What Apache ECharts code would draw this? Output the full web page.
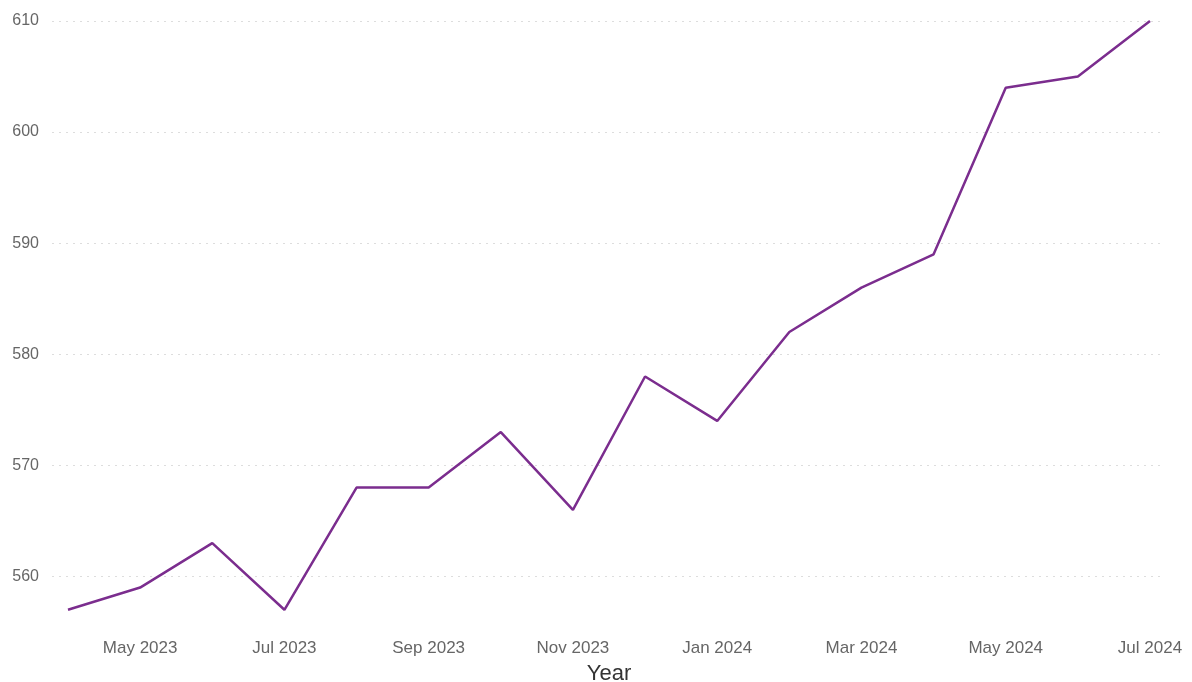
<!DOCTYPE html>
<html>
<head>
<meta charset="utf-8">
<script src="https://cdn.jsdelivr.net/npm/echarts@6/dist/echarts.min.js"></script>
<style>
    html, body { margin: 0; padding: 0; background: #fff; }
    #main { width: 1192px; height: 682px; }
</style>
</head>
<body>
<div id="main"></div>
<script>
// months, Apr 2023 .. Jul 2024
var months = ['Apr 2023', 'May 2023', 'Jun 2023', 'Jul 2023', 'Aug 2023', 'Sep 2023', 'Oct 2023', 'Nov 2023',
    'Dec 2023', 'Jan 2024', 'Feb 2024', 'Mar 2024', 'Apr 2024', 'May 2024', 'Jun 2024', 'Jul 2024'];
var values = [557, 559, 563, 557, 568, 568, 573, 566, 578, 574, 582, 586, 589, 604, 605, 610];
var yMin = 555;
var yMax = 610;

var myChart = echarts.init(document.getElementById('main'));
var font = "'Liberation Sans', Arial, sans-serif";

var option = {
    animation: false,
    grid: [
        // grid 0 only carries the y axis + dotted gridlines (a bit wider than the line)
        { left: 52, right: 30, top: 21, bottom: 50, outerBoundsMode: 'none' },
        // grid 1 carries the line and month labels
        { left: 68, right: 42, top: 21, bottom: 50, outerBoundsMode: 'none' }
    ],
    xAxis: [{
        gridIndex: 0,
        type: 'value',
        show: false
    }, {
        gridIndex: 1,
        type: 'category',
        boundaryGap: false,
        data: months,
        axisLine: { show: false },
        axisTick: { show: false },
        axisLabel: {
            interval: function(index) { return index % 2 === 1; },
            color: '#666',
            fontSize: 17,
            fontFamily: font,
            margin: 8
        },
        name: 'Year',
        nameLocation: 'middle',
        nameGap: 31,
        nameTextStyle: { color: '#333', fontSize: 22, fontFamily: font }
    }],
    yAxis: [{
        gridIndex: 0,
        type: 'value',
        min: yMin,
        max: yMax,
        splitNumber: 5,
        axisLine: { show: false },
        axisTick: { show: false },
        axisLabel: {
            showMinLabel: false,
            color: '#666',
            fontSize: 16,
            fontFamily: font,
            margin: 13
        },
        splitLine: {
            showMinLine: false,
            lineStyle: { color: '#ddd', type: [2, 5], width: 1 }
        }
    }, {
        gridIndex: 1,
        type: 'value',
        min: yMin,
        max: yMax,
        show: false,
        splitLine: { show: false }
    }],
    series: [{
        type: 'line',
        xAxisIndex: 1,
        yAxisIndex: 1,
        data: values,
        symbol: 'none',
        lineStyle: { color: '#7b2d8e', width: 2.5 }
    }]
};
myChart.setOption(option);
</script>
</body>
</html>
